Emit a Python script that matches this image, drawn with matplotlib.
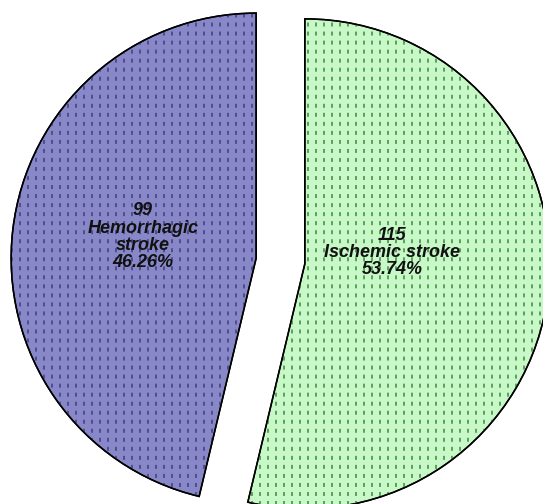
import matplotlib
matplotlib.use('Agg')
import matplotlib.pyplot as plt
import numpy as np
from matplotlib.collections import LineCollection
from matplotlib.patches import Wedge

# ---- data ----
categories = ['Ischemic stroke', 'Hemorrhagic\nstroke']
counts = [115, 99]

# ---- style ----
face_colors = ['#c8f7c8', '#8888c8']
dot_colors = ['#4f9a4f', '#48488a']
label_dist = [0.36, 0.47]
label_angle_shift = [14, -4]

W, H = 543, 504
R_px = 245.0
cx, cy = 280.5, 243.0  # pie centre in pixels from bottom-left

fig = plt.figure(figsize=(W / 100, H / 100), dpi=100)
ax = fig.add_axes([0, 0, 1, 1])

wedges, _ = ax.pie(counts, explode=[0.1, 0.1], startangle=90, counterclock=False,
                   colors=face_colors,
                   wedgeprops=dict(edgecolor='black', linewidth=1.1))
ax.set_aspect('auto')
ax.set_xlim(-cx / R_px, (W - cx) / R_px)
ax.set_ylim(-cy / R_px, (H - cy) / R_px)
ax.axis('off')

# dotted vertical pattern
step = 8.0 / R_px
xs = np.arange(-cx / R_px + 4.0 / R_px, (W - cx) / R_px, step)
y0, y1 = -1.3, 1.3
for w, dc in zip(wedges, dot_colors):
    segs = [[(x, y0), (x, y1)] for x in xs]
    lc = LineCollection(segs, colors=dc, linewidths=1.3,
                        linestyles=[(0, (2.2, 2.8))])
    ax.add_collection(lc)
    lc.set_clip_path(w)
    w.set_zorder(1)
    lc.set_zorder(2)

# edges drawn again on top
for w in wedges:
    ax.add_patch(Wedge(w.center, w.r, w.theta1, w.theta2, facecolor='none',
                       edgecolor='black', linewidth=1.1, zorder=3))

total = sum(counts)
for w, n, name, d, sh in zip(wedges, counts, categories, label_dist, label_angle_shift):
    mid = np.deg2rad((w.theta1 + w.theta2) / 2 + sh)
    x = w.center[0] + d * np.cos(mid)
    y = w.center[1] + d * np.sin(mid)
    txt = f"{n}\n{name}\n{100 * n / total:.2f}%"
    ax.text(x, y, txt, ha='center', va='center', fontsize=13,
            fontweight='bold', fontstyle='italic', family='Liberation Sans',
            linespacing=1.02, zorder=4, color='#111111')

fig.savefig('out.png', dpi=100)
